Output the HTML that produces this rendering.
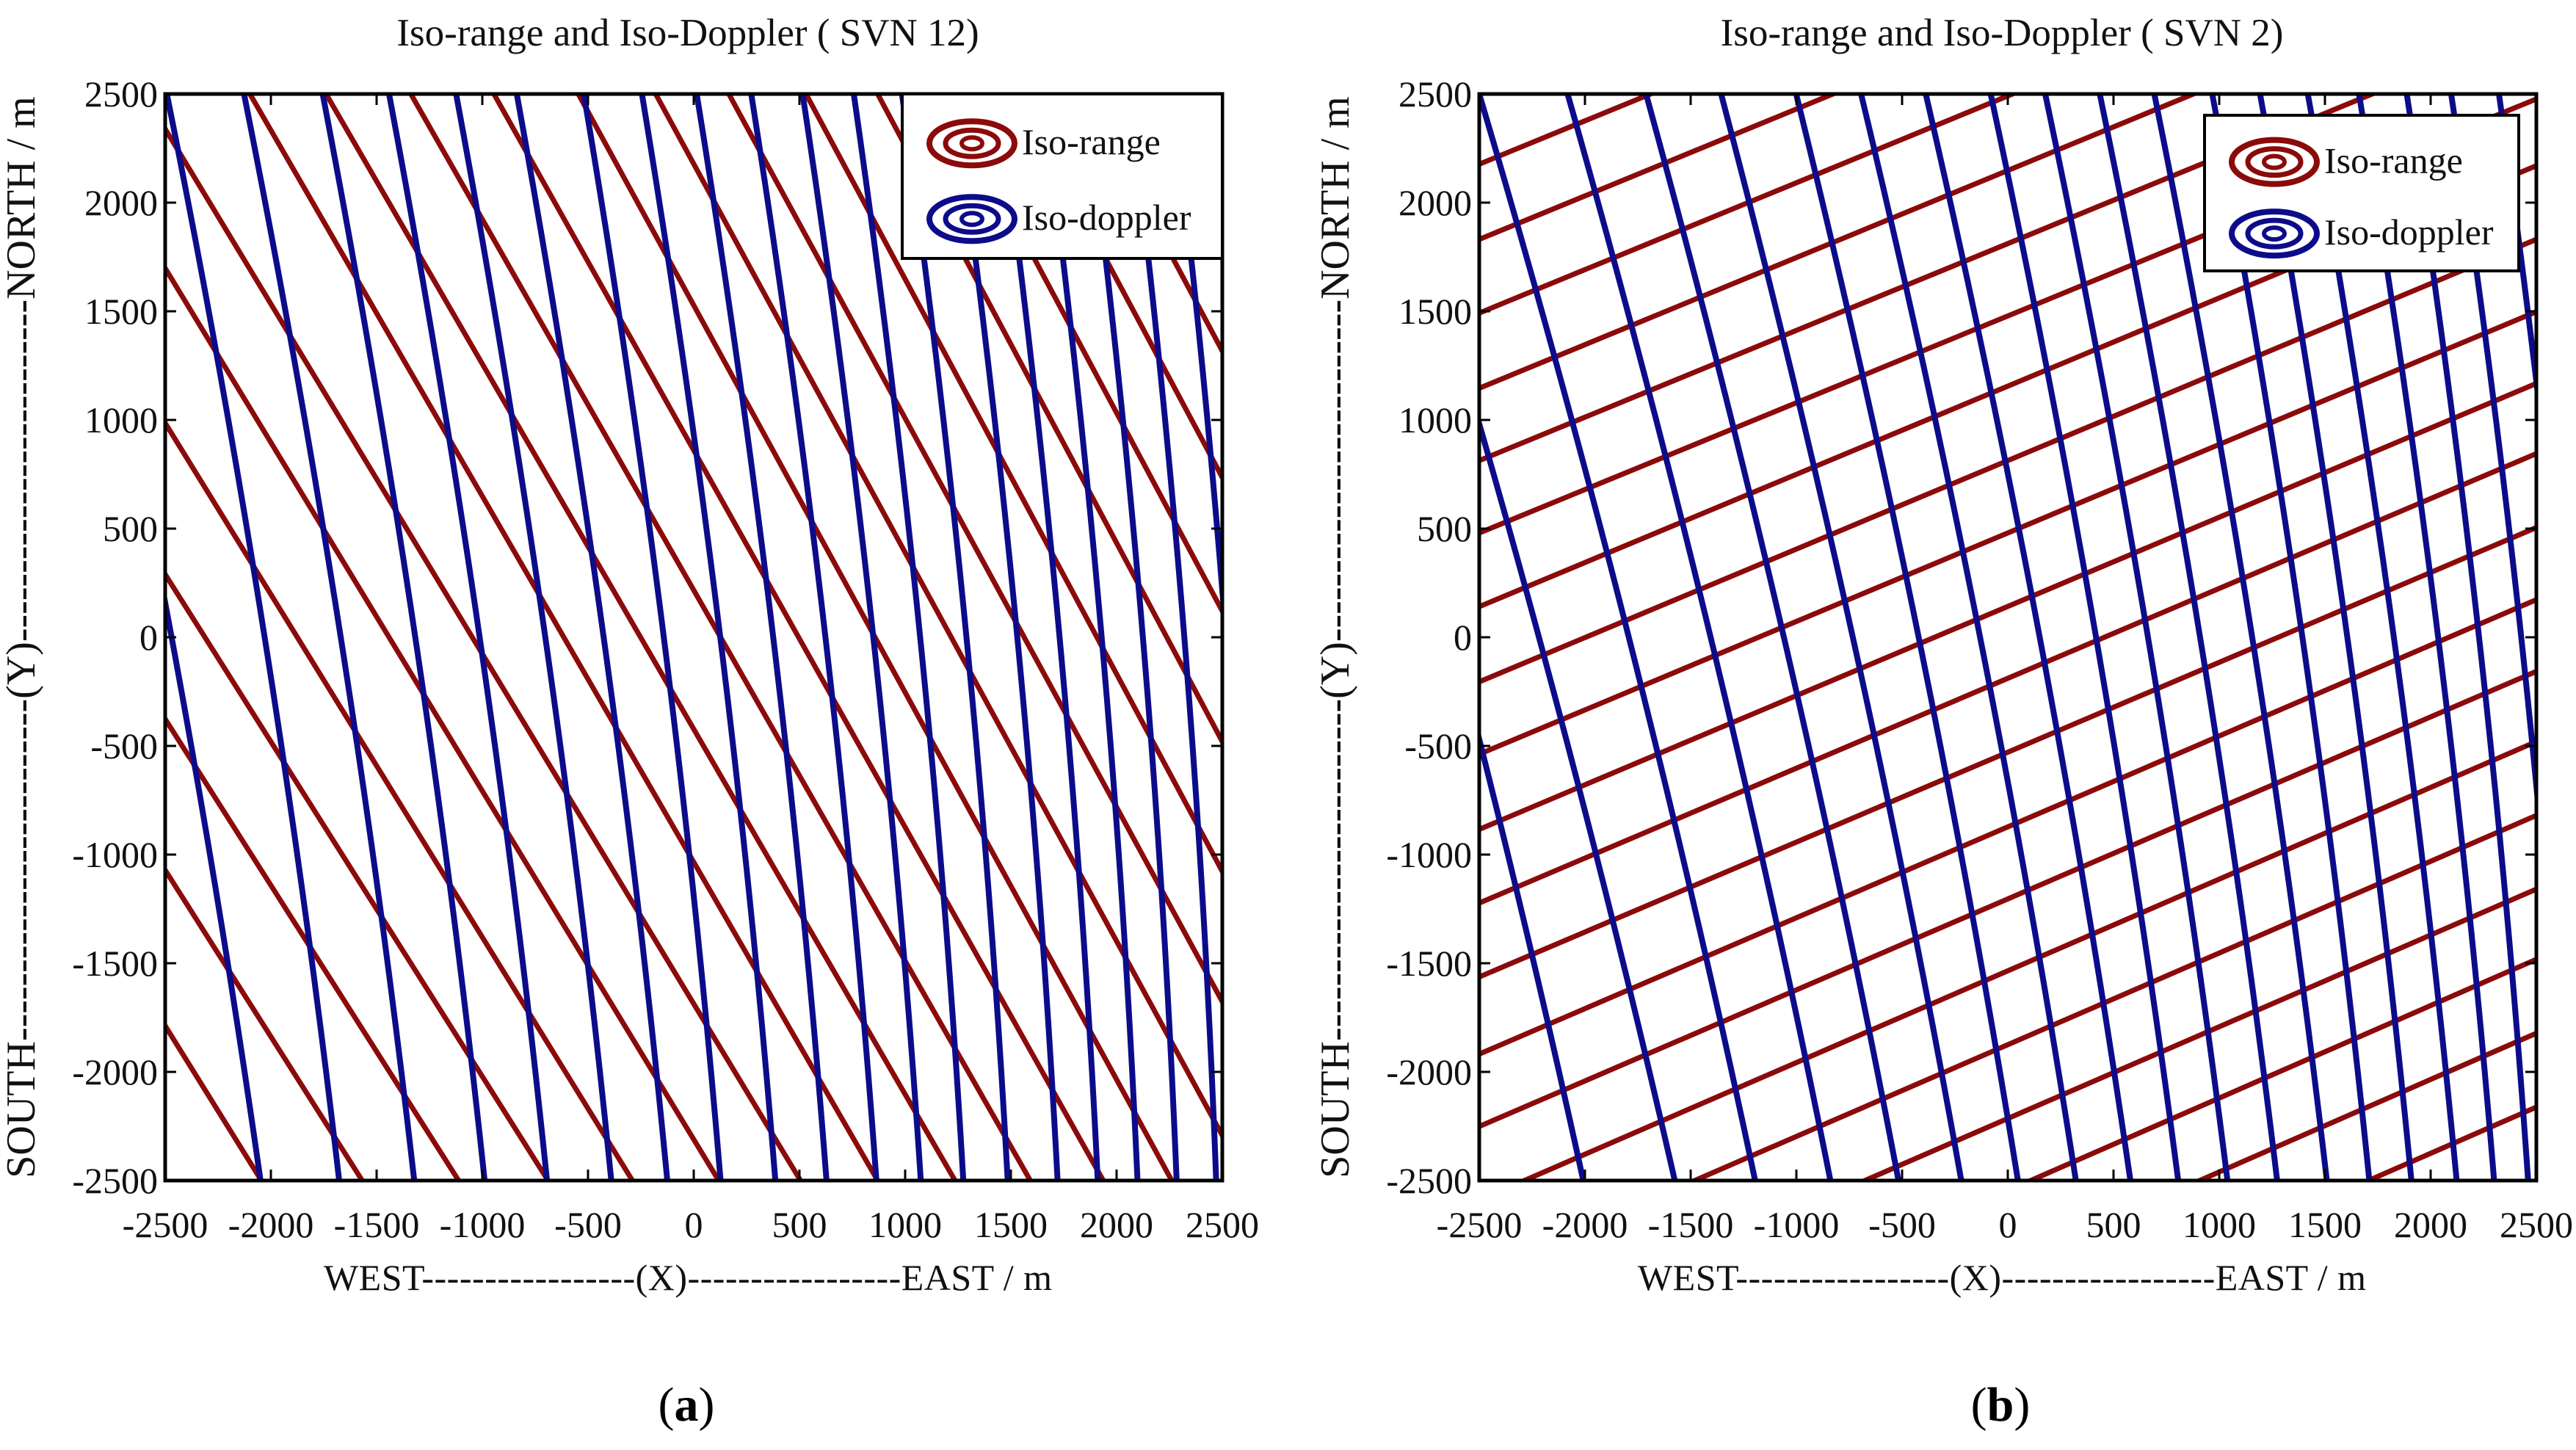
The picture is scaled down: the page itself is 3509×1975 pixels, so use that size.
<!DOCTYPE html>
<html><head><meta charset="utf-8"><style>
html,body{margin:0;padding:0;background:#fff;overflow:hidden;width:3509px;height:1975px;}
svg{display:block;font-family:"Liberation Serif",serif;}
</style></head><body>
<svg id="fig" width="3509" height="1975" viewBox="0 0 3509 1975" xmlns="http://www.w3.org/2000/svg">
<rect width="3509" height="1975" fill="#fff"/>
<defs>
<clipPath id="clipA"><rect x="225" y="128" width="1440" height="1480"/></clipPath>
<clipPath id="clipB"><rect x="2015" y="128" width="1440" height="1480"/></clipPath>
</defs>
<g id="panelA"></g>
<g id="panelB"></g>
</svg>
<script>
// ---- data (metres) ----
const tickVals = [-2500,-2000,-1500,-1000,-500,0,500,1000,1500,2000,2500];
const tickLabels = ["-2500","-2000","-1500","-1000","-500","0","500","1000","1500","2000","2500"];
// Panel a iso-range: x at y=+2500 (top) and x at y=-2500 (bottom)
const redATop = [-5240,-4830,-4380,-3935,-3460,-3000,-2600,-2099,-1739,-1338,-945,-546,-180,166,531,870,1196,1533,1852,2160,2460];
const redABottom = [-2045,-1568,-1112,-689,-290,118,505,870,1236,1592,1937,2261,2616,2960,3283,3605,3936,4273,4592,4900,5200];
// Panel a iso-doppler: x at top / bottom
const blueATop = [-3000,-2492,-2127,-1755,-1441,-1124,-837,-520,-245,14,272,515,757,985,1230,1440,1650,1855,2060,2265,2465];
const blueABottom = [-2049,-1677,-1322,-989,-694,-390,-125,127,386,628,864,1074,1275,1485,1721,1911,2099,2284,2471,2660,2840];
// Panel b iso-range: y at x=-2500 (left) / x=+2500 (right)
const redBLeft = [2520,2177,1831,1492,1146,813,480,141,-205,-538,-884,-1223,-1563,-1918,-2251,-2590,-2930,-3270,-3610,-3950,-4290,-4630];
const redBRight = [4510,4170,3830,3490,3150,2810,2477,2170,1831,1498,1168,845,505,173,-157,-480,-820,-1159,-1482,-1822,-2162,-2500];
// Panel b iso-doppler: x at top / bottom
const blueBTop = [-3350,-2970,-2500,-2082,-1711,-1356,-1001,-694,-388,-81,177,435,693,967,1193,1419,1661,1887,2097,2323];
const blueBBottom = [-2008,-1575,-1195,-839,-517,-220,48,322,580,806,1039,1274,1509,1710,1909,2123,2300,2461,2650,2830];

const NS = "http://www.w3.org/2000/svg";
const RED = "#8b0a0a", BLUE = "#0c0c8a";
function mk(tag, attrs, parent){const e=document.createElementNS(NS,tag);for(const k in attrs)e.setAttribute(k,attrs[k]);parent.appendChild(e);return e;}

function panel(gid, x0, clipId, title, red, blue, redMode, legendBox, label){
  const g = document.getElementById(gid);
  const x1 = x0+1440, y0 = 128, y1 = 1608;
  const sx = v => x0 + (v+2500)/5000*(x1-x0);
  const sy = v => y1 - (v+2500)/5000*(y1-y0);
  const lines = mk('g',{'clip-path':'url(#'+clipId+')'},g);
  
  
  for(let i=0;i<red[0].length;i++){
    let d;
    if(redMode==='tb') d=`M${sx(red[0][i])},${sy(2500)} L${sx(red[1][i])},${sy(-2500)}`;
    else d=`M${sx(-2500)},${sy(red[0][i])} L${sx(2500)},${sy(red[1][i])}`;
    const p = mk('path',{d:d,stroke:RED,'stroke-width':7,fill:'none'},lines);
    
    
  }
  const bow = 55;
  for(let i=0;i<blue[0].length;i++){
    const t=blue[0][i], b=blue[1][i];
    const cx = (t+b)/2 + 2*bow;
    const d=`M${sx(t)},${sy(2500)} Q${sx(cx)},${sy(0)} ${sx(b)},${sy(-2500)}`;
    const p = mk('path',{d:d,stroke:BLUE,'stroke-width':8,fill:'none'},lines);
    
    
  }
  const tk = mk('g',{stroke:'#000','stroke-width':3},g);
  
  
  tickVals.forEach(v=>{
    mk('line',{x1:sx(v),y1:y1,x2:sx(v),y2:y1-15},tk);
    mk('line',{x1:sx(v),y1:y0,x2:sx(v),y2:y0+15},tk);
    mk('line',{x1:x0,y1:sy(v),x2:x0+15,y2:sy(v)},tk);
    mk('line',{x1:x1,y1:sy(v),x2:x1-15,y2:sy(v)},tk);
  });
  const frame = mk('rect',{x:x0,y:y0,width:x1-x0,height:y1-y0,fill:'none',stroke:'#000','stroke-width':5},g);
  
  
  tickVals.forEach((v,i)=>{
    const tx = mk('text',{x:sx(v),y:1685,'font-size':50,'text-anchor':'middle',fill:'#111'},g);
    tx.textContent = tickLabels[i];
    
    
    const ty = mk('text',{x:x0-10,y:sy(v)+17,'font-size':50,'text-anchor':'end',fill:'#111'},g);
    ty.textContent = tickLabels[i];
    
    
  });
  const tt = mk('text',{x:(x0+x1)/2-8,y:62,'font-size':53,'text-anchor':'middle',fill:'#111'},g);
  tt.textContent = title;
  
  
  const xl = mk('text',{x:x0+216,y:1757,'font-size':50,fill:'#111',textLength:992,lengthAdjust:'spacing'},g);
  xl.textContent = "WEST-----------------(X)-----------------EAST / m";
  
  
  const yx = x0-178;
  const yl = mk('text',{x:0,y:0,'font-size':56,'text-anchor':'middle',fill:'#111',transform:`translate(${yx},${(y0+y1)/2}) rotate(-90)`},g);
  yl.textContent = "SOUTH-------------------------(Y)-------------------------NORTH / m";
  
  
  const [lx,ly,lw,lh] = legendBox;
  const lg = mk('g',{},g);
  
  
  mk('rect',{x:lx,y:ly,width:lw,height:lh,fill:'#fff',stroke:'#000','stroke-width':4},lg);
  [[RED,"Iso-range",ly+lh*0.3],[BLUE,"Iso-doppler",ly+lh*0.76]].forEach(([c,t,cy])=>{
    const e = mk('g',{},lg);
    
    
    const icx = lx+95;
    mk('ellipse',{cx:icx,cy:cy,rx:58,ry:30,fill:'none',stroke:c,'stroke-width':8},e);
    mk('ellipse',{cx:icx,cy:cy,rx:36,ry:18,fill:'none',stroke:c,'stroke-width':7},e);
    mk('ellipse',{cx:icx,cy:cy,rx:14,ry:8,fill:'none',stroke:c,'stroke-width':6},e);
    const tx = mk('text',{x:lx+163,y:cy+15,'font-size':50,fill:'#111'},e);
    tx.textContent = t;
  });
  const lab = mk('text',{x:(x0+x1)/2-10,y:1935,'font-size':66,'text-anchor':'middle',fill:'#000'},g);
  lab.innerHTML = '(<tspan font-weight="bold">'+label+'</tspan>)';
  
  
}
panel('panelA',225,'clipA',"Iso-range and Iso-Doppler ( SVN 12)",[redATop,redABottom],[blueATop,blueABottom],'tb',[1229,128,436,224],'a');
panel('panelB',2015,'clipB',"Iso-range and Iso-Doppler ( SVN 2)",[redBLeft,redBRight],[blueBTop,blueBBottom],'lr',[3003,157,428,212],'b');
</script>
</body></html>
